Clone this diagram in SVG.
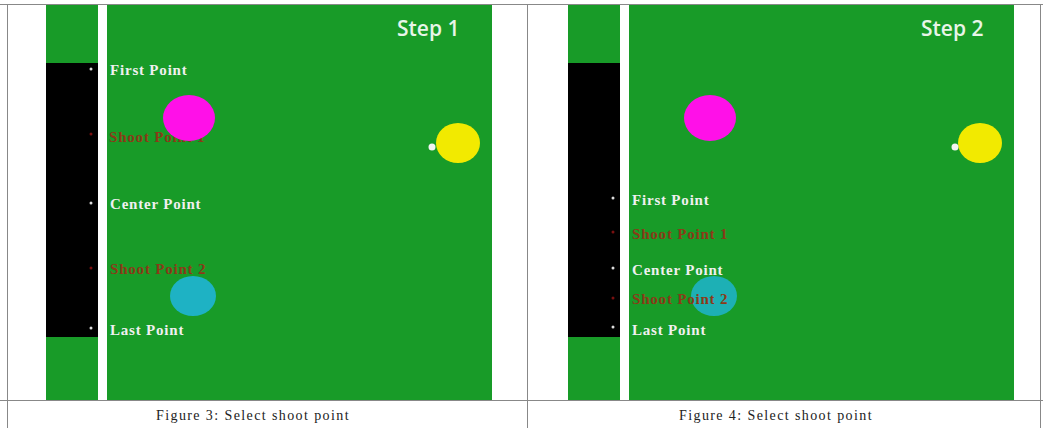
<svg xmlns="http://www.w3.org/2000/svg" width="1043" height="428" viewBox="0 0 1043 428">
<style>
.g{fill:#189b28}
.b{fill:#000}
.lbl{font-family:"Liberation Serif",serif;font-size:15px;font-weight:bold;letter-spacing:0.8px;fill:#f0f0f0}
.red{font-family:"Liberation Serif",serif;font-size:15px;font-weight:bold;letter-spacing:0.8px;fill:#8a3a18}
.step{font-family:"Open Sans","Noto Sans",sans-serif;font-size:21px;font-weight:600;fill:#e8f5e8}
.cap{font-family:"Liberation Serif",serif;font-size:14px;letter-spacing:1.4px;fill:#222}
.dot{fill:#ddd}
.rdot{fill:#7a1010}
.line{stroke:#888;stroke-width:1;fill:none}
</style>
<rect width="1043" height="428" fill="#fff"/>
<g id="table">
<path class="line" d="M0 4.5H1043M7.5 4V428M527.5 4V428M1040.5 4V428M0 400.5H1043"/>
</g>
<g id="panel1">
<rect class="g" x="46" y="5" width="52" height="395"/>
<rect class="b" x="46" y="63" width="52" height="274"/>
<rect class="g" x="107" y="5" width="385" height="395"/>
<text class="step" x="397" y="36">Step 1</text>
<ellipse cx="458" cy="143" rx="22" ry="20" fill="#f2ea00"/>
<circle cx="432" cy="147" r="3.5" fill="#f4f4f4"/>
<circle class="dot" cx="91" cy="69" r="1.5"/>
<circle class="rdot" cx="91" cy="134" r="1.5"/>
<circle class="dot" cx="91" cy="203" r="1.5"/>
<circle class="rdot" cx="91" cy="268" r="1.5"/>
<circle class="dot" cx="91" cy="328" r="1.5"/>
<text class="lbl" x="110" y="75">First Point</text>
<text class="red" x="109" y="142">Shoot Point 1</text>
<ellipse cx="189" cy="118" rx="26" ry="23" fill="#ff10e8"/>
<text class="lbl" x="110" y="209">Center Point</text>
<text class="red" x="110" y="274">Shoot Point 2</text>
<ellipse cx="193" cy="296" rx="23" ry="20" fill="#1eb2c4"/>
<text class="lbl" x="110" y="335">Last Point</text>
</g>
<g id="panel2">
<rect class="g" x="568" y="5" width="52" height="395"/>
<rect class="b" x="568" y="63" width="52" height="274"/>
<rect class="g" x="629" y="5" width="385" height="395"/>
<text class="step" x="921" y="36">Step 2</text>
<ellipse cx="980" cy="143" rx="22" ry="20" fill="#f2ea00"/>
<circle cx="955" cy="147" r="3.5" fill="#f4f4f4"/>
<ellipse cx="710" cy="118" rx="26" ry="23" fill="#ff10e8"/>
<circle class="dot" cx="613" cy="198" r="1.5"/>
<circle class="rdot" cx="613" cy="232" r="1.5"/>
<circle class="dot" cx="613" cy="268" r="1.5"/>
<circle class="rdot" cx="613" cy="298" r="1.5"/>
<circle class="dot" cx="613" cy="327" r="1.5"/>
<text class="lbl" x="632" y="205">First Point</text>
<text class="red" x="632" y="239">Shoot Point 1</text>
<text class="lbl" x="632" y="275">Center Point</text>
<ellipse cx="714" cy="296" rx="23" ry="20" fill="#1eb2c4" opacity="0.9"/>
<text class="red" x="632" y="304">Shoot Point 2</text>
<text class="lbl" x="632" y="335">Last Point</text>
</g>
<g id="captions">
<text class="cap" x="253" y="420" text-anchor="middle">Figure 3: Select shoot point</text>
<text class="cap" x="776" y="420" text-anchor="middle">Figure 4: Select shoot point</text>
</g>
</svg>
